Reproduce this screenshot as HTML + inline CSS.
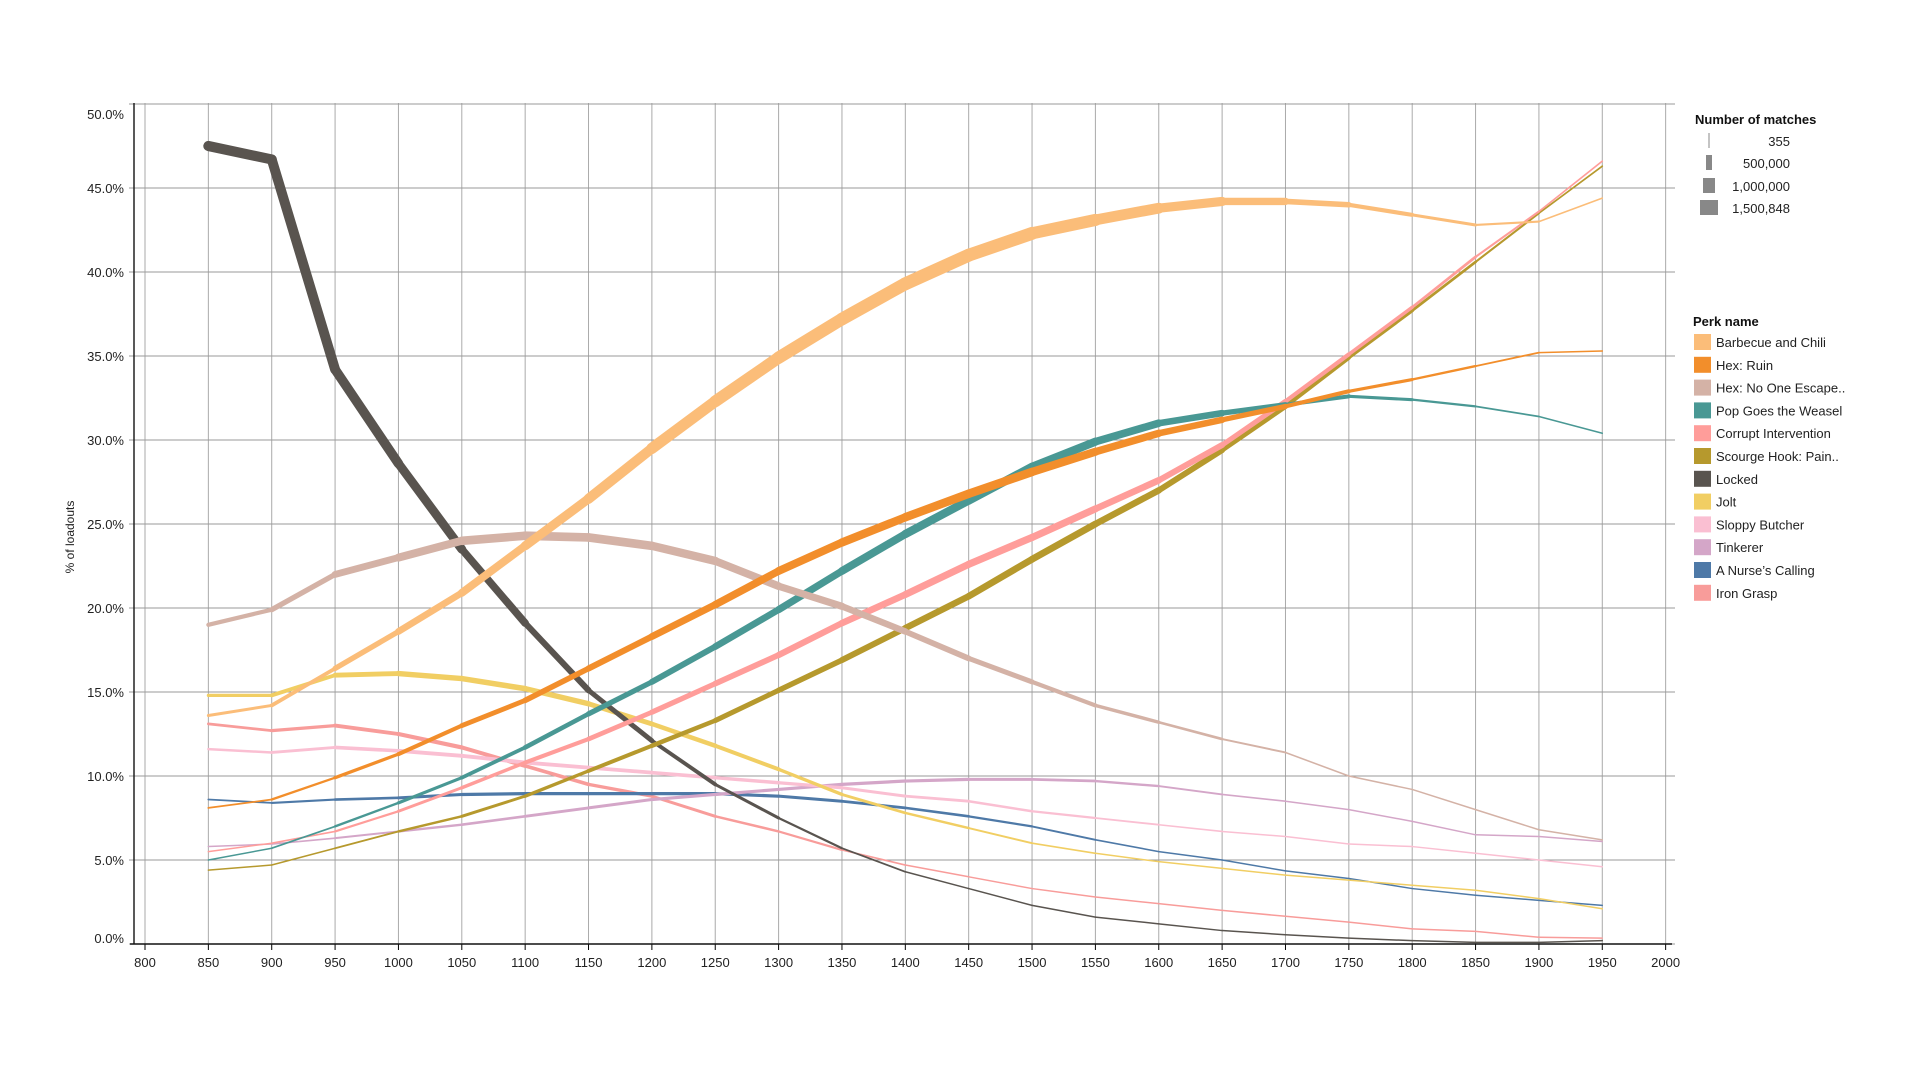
<!DOCTYPE html>
<html><head><meta charset="utf-8"><style>
html,body{margin:0;padding:0;background:#fff;}
svg{display:block;font-family:"Liberation Sans",sans-serif;}
</style></head><body>
<svg id="s" width="1916" height="1074" xmlns="http://www.w3.org/2000/svg"></svg>
<script>
const S=document.getElementById('s');const NS='http://www.w3.org/2000/svg';
function el(t,a,txt){const e=document.createElementNS(NS,t);for(const k in a)e.setAttribute(k,a[k]);if(txt!==undefined)e.textContent=txt;S.appendChild(e);return e;}
const X=t=>145+(t-800)*1.2672, Y=v=>944-16.8*v;
for(let t=800;t<=2000;t+=50){el('line',{x1:X(t),x2:X(t),y1:103,y2:944,stroke:'#aaa','stroke-width':1});
 el('line',{x1:X(t),x2:X(t),y1:944,y2:950,stroke:'#000','stroke-width':1});
 el('text',{x:X(t),y:967,'text-anchor':'middle','font-size':13,fill:'#222'},t);}
for(let v=0;v<=50;v+=5){el('line',{x1:129,x2:1675,y1:Y(v),y2:Y(v),stroke:'#999','stroke-width':1});
 let dy=5; if(v===50)dy=15; if(v===0)dy=-1;
 el('text',{x:124,y:Y(v)+dy,'text-anchor':'end','font-size':13,fill:'#222'},v.toFixed(1)+'%');}
el('line',{x1:134,x2:134,y1:103,y2:944,stroke:'#222','stroke-width':1.5});
el('line',{x1:130,x2:1672,y1:944,y2:944,stroke:'#111','stroke-width':1.5});
el('text',{x:0,y:0,'font-size':12,fill:'#222','text-anchor':'middle',transform:'translate(74,537) rotate(-90)'},'% of loadouts');
const KM=[0.21,0.22,0.28,0.33,0.35,0.36,0.36,0.36,0.36,0.35,0.34,0.33,0.32,0.3,0.27,0.23,0.19,0.14,0.11,0.08,0.06,0.04,0.035];
const D=[
['Barbecue and Chili','#FBBD79',[13.6,14.2,16.4,18.6,20.9,23.7,26.5,29.5,32.3,34.9,37.2,39.3,41,42.3,43.1,43.8,44.2,44.2,44,43.4,42.8,43,44.4]],
['Hex: Ruin','#F28E2B',[8.1,8.6,9.9,11.3,13,14.5,16.4,18.3,20.2,22.2,23.9,25.4,26.8,28.1,29.3,30.4,31.2,32,32.9,33.6,34.4,35.2,35.3]],
['Hex: No One Escape..','#D4B2A6',[19,19.9,22,23,24,24.3,24.2,23.7,22.8,21.3,20.1,18.6,17,15.6,14.2,13.2,12.2,11.4,10,9.2,8,6.8,6.2]],
['Pop Goes the Weasel','#499894',[5,5.7,7,8.4,9.9,11.7,13.7,15.6,17.7,19.9,22.2,24.4,26.4,28.4,29.9,31,31.6,32.1,32.6,32.4,32,31.4,30.4]],
['Corrupt Intervention','#FF9D9A',[5.5,6,6.7,7.9,9.3,10.8,12.2,13.8,15.5,17.2,19.1,20.8,22.6,24.2,25.9,27.6,29.7,32.3,35.1,37.9,40.9,43.6,46.6]],
['Scourge Hook: Pain..','#B6992D',[4.4,4.7,5.7,6.7,7.6,8.8,10.3,11.8,13.3,15.1,16.9,18.8,20.7,22.9,25,27,29.4,32,34.9,37.7,40.6,43.5,46.3]],
['Locked','#59544F',[47.5,46.7,34.2,28.6,23.5,19.1,15.1,12.1,9.5,7.5,5.7,4.3,3.3,2.3,1.6,1.2,0.8,0.55,0.35,0.2,0.1,0.1,0.2]],
['Jolt','#F1CE63',[14.8,14.8,16,16.1,15.8,15.2,14.3,13.1,11.8,10.4,8.9,7.8,6.9,6,5.4,4.9,4.5,4.1,3.8,3.5,3.2,2.7,2.1]],
['Sloppy Butcher','#FABFD2',[11.6,11.4,11.7,11.5,11.2,10.8,10.5,10.2,9.9,9.6,9.3,8.8,8.5,7.9,7.5,7.1,6.7,6.4,5.95,5.8,5.4,5,4.6]],
['Tinkerer','#D4A6C8',[5.8,5.95,6.3,6.7,7.1,7.6,8.1,8.6,8.9,9.2,9.5,9.7,9.8,9.8,9.7,9.4,8.9,8.5,8,7.3,6.5,6.4,6.1]],
['A Nurse\u2019s Calling','#4E79A7',[8.6,8.4,8.6,8.7,8.9,8.95,8.95,8.95,8.95,8.8,8.5,8.1,7.6,7,6.2,5.5,5,4.35,3.9,3.3,2.9,2.6,2.3]],
['Iron Grasp','#F89C9A',[13.1,12.7,13,12.5,11.7,10.6,9.5,8.8,7.6,6.7,5.6,4.7,4,3.3,2.8,2.4,2,1.65,1.3,0.9,0.75,0.4,0.35]]];
for(let s=D.length-1;s>=0;s--){const [n,c,v]=D[s];
 for(let i=0;i<v.length-1;i++){const w=Math.max(1.5,KM[i]*v[i]),w2=Math.max(1.5,KM[i+1]*v[i+1]);
  const t1=850+50*i,t2=t1+50;
  el('line',{x1:X(t1),y1:Y(v[i]),x2:X(t2),y2:Y(v[i+1]),stroke:c,'stroke-width':(w+w2)/2,'stroke-linecap':'round'});}}
el('text',{x:1695,y:124,'font-size':13,fill:'#111','font-weight':'bold'},'Number of matches');
[['355',1,141],['500,000',6,163],['1,000,000',12,186],['1,500,848',18,208]].forEach(([t,w,y])=>{
 el('rect',{x:1709-w/2,y:y-8,width:w,height:15,fill:'#888'});
 el('text',{x:1790,y:y+5,'text-anchor':'end','font-size':13,fill:'#222'},t);});
el('text',{x:1693,y:326,'font-size':13,fill:'#111','font-weight':'bold'},'Perk name');
D.forEach(([n,c],i)=>{const cy=342+i*22.8;
 el('rect',{x:1694,y:cy-8,width:17,height:16,fill:c});
 el('text',{x:1716,y:cy+5,'font-size':13,fill:'#222'},n);});
</script>
</body></html>
